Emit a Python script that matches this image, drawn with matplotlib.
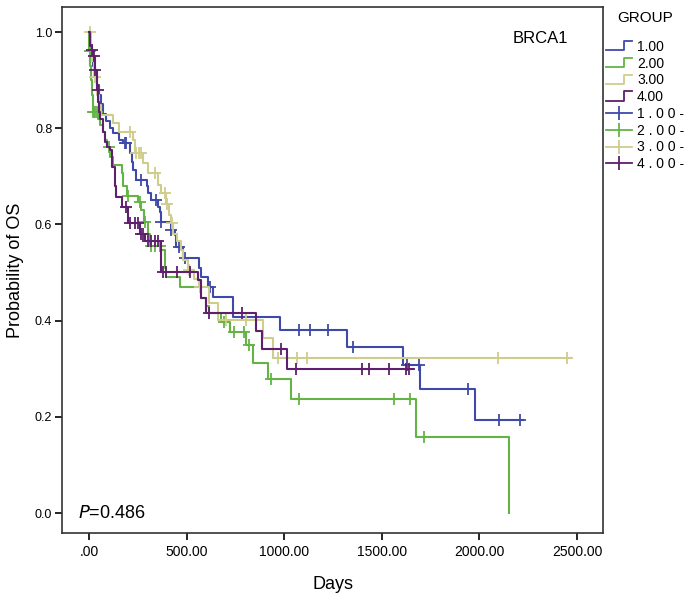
#!/usr/bin/env python3
"""
Kaplan-Meier curve, BRCA1 groups
"""
import numpy as np
import matplotlib
matplotlib.use('Agg')
import matplotlib.pyplot as plt
from matplotlib.lines import Line2D
from matplotlib.legend_handler import HandlerBase

plt.rcParams['font.family'] = ['Liberation Sans', 'DejaVu Sans']

# group 1.00
g1_times = [0, 5, 12, 20, 30, 40, 50, 60, 70, 87, 110, 124, 155, 175, 209, 218, 226, 243, 295, 303,
            320, 352, 362, 371, 422, 439, 447, 481, 566, 575, 609, 634, 736, 978, 1320, 1607, 1697, 1978]
g1_surv = [1.0, 0.97, 0.95, 0.93, 0.91, 0.89, 0.87, 0.85, 0.83, 0.815, 0.80, 0.79, 0.775, 0.77, 0.748,
           0.73, 0.713, 0.692, 0.679, 0.665, 0.651, 0.637, 0.626, 0.604, 0.588, 0.578, 0.554, 0.53,
           0.509, 0.491, 0.47, 0.45, 0.408, 0.380, 0.346, 0.308, 0.257, 0.193]
g1_cens = [184, 192, 269, 345, 371, 422, 460, 490, 622, 1077, 1133, 1224, 1352, 1628, 1690, 1944, 2100, 2206]
g1_end = 2224

# group 2.00
g2_times = [0, 2, 5, 10, 15, 20, 45, 55, 73, 82, 95, 110, 124, 167, 175, 195, 252, 269, 280, 300, 315,
            371, 388, 395, 464, 575, 600, 615, 677, 722, 805, 842, 915, 1037, 1675, 2153]
g2_surv = [1.0, 0.96, 0.93, 0.90, 0.87, 0.833, 0.82, 0.807, 0.793, 0.775, 0.76, 0.74, 0.723, 0.706,
           0.679, 0.659, 0.647, 0.63, 0.605, 0.58, 0.555, 0.547, 0.51, 0.491, 0.47, 0.446, 0.43, 0.415,
           0.398, 0.377, 0.349, 0.311, 0.278, 0.238, 0.159, 0.0]
g2_cens = [3, 22, 28, 33, 39, 104, 201, 260, 286, 320, 340, 362, 690, 745, 796, 821, 932, 1077, 1561, 1643, 1714]
g2_end = 2153

# group 3.00
g3_times = [0, 8, 15, 25, 40, 50, 60, 124, 155, 226, 235, 277, 303, 354, 371, 396, 410, 418, 430, 450,
            473, 481, 507, 540, 566, 617, 660, 889, 945]
g3_surv = [1.0, 0.97, 0.94, 0.907, 0.87, 0.848, 0.827, 0.81, 0.793, 0.775, 0.748, 0.727, 0.706, 0.682,
           0.665, 0.642, 0.62, 0.602, 0.581, 0.565, 0.547, 0.526, 0.505, 0.487, 0.47, 0.436, 0.401,
           0.363, 0.322]
g3_cens = [6, 30, 209, 243, 255, 269, 337, 388, 400, 425, 515, 570, 702, 805, 969, 1068, 1119, 2097, 2451]
g3_end = 2471

# group 4.00
g4_times = [0, 5, 14, 20, 31, 40, 48, 52, 56, 73, 82, 95, 107, 116, 133, 141, 167, 201, 260, 286, 371,
            558, 575, 600, 855, 886, 1017]
g4_surv = [1.0, 0.97, 0.963, 0.95, 0.92, 0.88, 0.855, 0.834, 0.82, 0.793, 0.772, 0.76, 0.755, 0.72,
           0.679, 0.657, 0.637, 0.602, 0.581, 0.565, 0.502, 0.484, 0.446, 0.415, 0.379, 0.341, 0.299]
g4_cens = [14, 25, 31, 45, 192, 210, 235, 252, 265, 277, 303, 320, 337, 354, 379, 395, 450, 520, 617,
           784, 986, 1060, 1400, 1437, 1536, 1626, 1638]
g4_end = 1658

groups = [
    ('1.00', g1_times, g1_surv, g1_cens, g1_end, '#3f4aa8'),
    ('2.00', g2_times, g2_surv, g2_cens, g2_end, '#64b445'),
    ('3.00', g3_times, g3_surv, g3_cens, g3_end, '#cfcd8c'),
    ('4.00', g4_times, g4_surv, g4_cens, g4_end, '#5e1f6c'),
]
cens_labels = ['1 . 0 0 -', '2 . 0 0 -', '3 . 0 0 -', '4 . 0 0 -']

x_ticks = [0, 500, 1000, 1500, 2000, 2500]
x_labels = ['.00', '500.00', '1000.00', '1500.00', '2000.00', '2500.00']
y_ticks = [0.0, 0.2, 0.4, 0.6, 0.8, 1.0]
y_labels = ['0.0', '0.2', '0.4', '0.6', '0.8', '1.0']


class StepHandler(HandlerBase):
    """legend glyph shaped like a step"""
    def create_artists(self, legend, orig_handle, xdescent, ydescent, width, height, fontsize, trans):
        x0, x1 = -xdescent, -xdescent + width
        y0, y1 = -ydescent, -ydescent + height
        xm = x0 + 0.68 * width
        ln = Line2D([x0, xm, xm, x1], [y0 + 0.05 * height, y0 + 0.05 * height, y1, y1],
                    color=orig_handle.get_color(), lw=1.3, transform=trans)
        return [ln]


def surv_at(times, surv, t):
    idx = np.searchsorted(times, t, side='right') - 1
    return surv[idx]


fig = plt.figure(figsize=(6.89, 6.01), dpi=100)
bottom_px = 533
ax = fig.add_axes([62 / 689, 1 - bottom_px / 601, (603 - 62) / 689, (bottom_px - 7) / 601])

step_handles = []
cens_handles = []
for name, times, surv, cens, end, color in groups:
    t = np.array(times + [end], dtype=float)
    s = np.array(surv + [surv[-1]], dtype=float)
    ax.step(t, s, where='post', color=color, lw=1.5)
    cy = [surv_at(np.array(times), np.array(surv), c) for c in cens]
    ax.plot(cens, cy, linestyle='none', marker='+', markersize=8, mew=1.3, color=color)
    step_handles.append(Line2D([], [], color=color))
    cens_handles.append(Line2D([], [], color=color, marker='|', markersize=10, mew=1.3, lw=1.3))

ax.set_xlim(-138, 2633)
ax.set_ylim(-(bottom_px - 513) / 481, 1.052)
ax.set_xticks(x_ticks)
ax.set_xticklabels(x_labels, fontsize=10)
ax.set_yticks(y_ticks)
ax.set_yticklabels(y_labels, fontsize=9)
ax.tick_params(axis='x', direction='out', length=5, width=1.2, pad=4)
ax.tick_params(axis='y', direction='out', length=5, width=1.2, pad=2)
for sp in ax.spines.values():
    sp.set_linewidth(1.2)
    sp.set_color('#333333')

ax.set_xlabel('Days', fontsize=13, labelpad=12)
ax.set_ylabel('Probability of OS', fontsize=13, labelpad=8)

ax.text(0.935, 0.955, 'BRCA1', transform=ax.transAxes, fontsize=12, ha='right', va='top')
ax.text(0.03, 0.02, r'$\it{P}$=0.486', transform=ax.transAxes, fontsize=13, ha='left', va='bottom')

labels = [g[0] for g in groups] + cens_labels
handler_map = {h: StepHandler() for h in step_handles}
fig.legend(step_handles + cens_handles, labels, handler_map=handler_map,
           loc='upper left', bbox_to_anchor=(603 / 689, 1 - 37 / 601),
           frameon=False, fontsize=10,
           handlelength=1.9, handletextpad=0.35, labelspacing=0.2, borderaxespad=0,
           numpoints=1, borderpad=0.2)
fig.text(645 / 689, 1 - 18 / 601, 'GROUP', fontsize=11, ha='center', va='center')

plt.savefig('out.png', dpi=100)
